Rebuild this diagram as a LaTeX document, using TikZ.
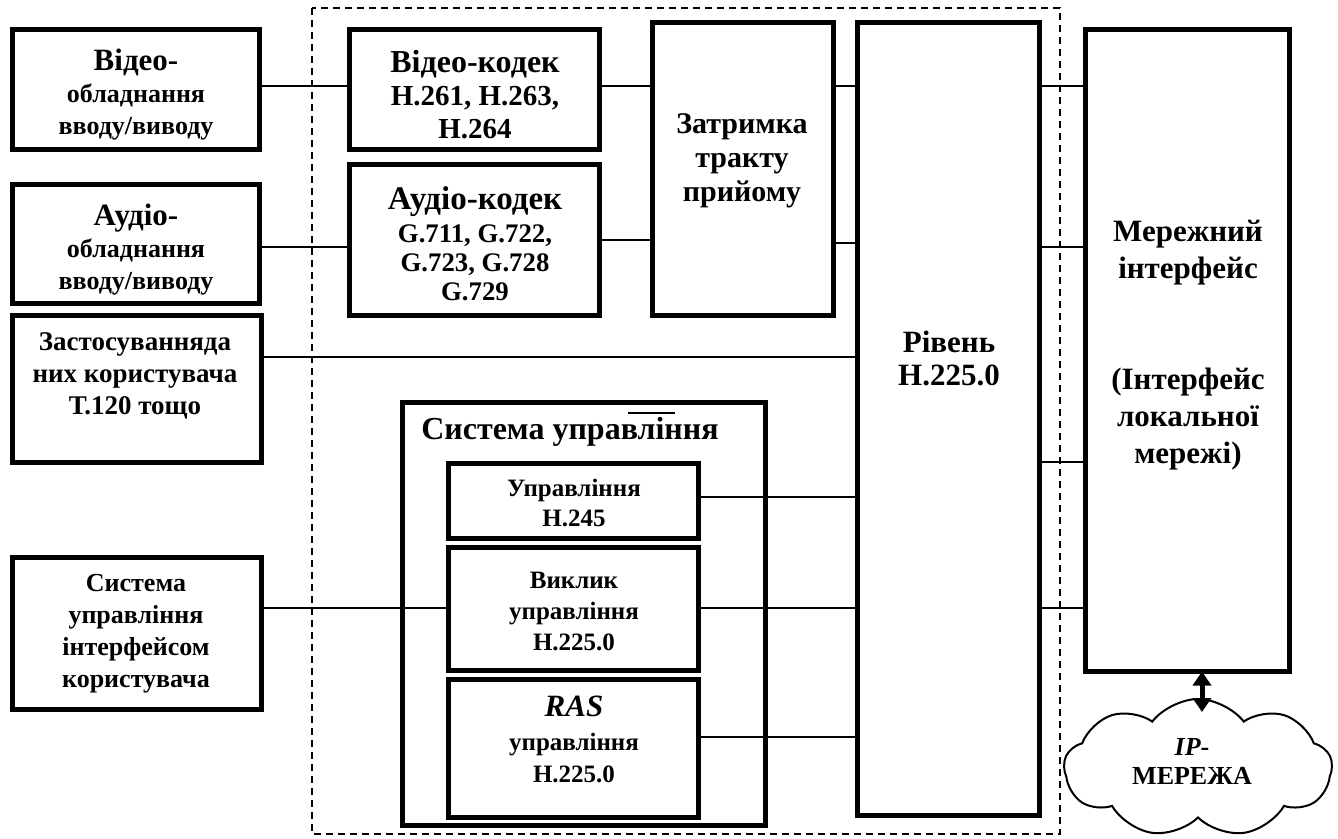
\documentclass[tikz,border=0pt]{standalone}
\usepackage{fontspec}
\setmainfont{Liberation Serif}
\usetikzlibrary{shapes.symbols,arrows.meta}
\newcommand\tbig{\fontsize{15.5}{17}\selectfont}
\begin{document}
\begin{tikzpicture}[x=0.5pt,y=-0.5pt,
  box/.style={draw, line width=2.5pt, inner sep=0pt, outer sep=0pt, fill=white},
  txt/.style={align=center, inner sep=0pt, font=\bfseries\fontsize{13}{16}\selectfont},
  conn/.style={line width=1pt},
  frame/.style={line width=0.8pt, dash pattern=on 3.5pt off 2.5pt}]
\useasboundingbox (0,0) rectangle (1338,839);
\fill[white] (0,0) rectangle (1338,839);
% dashed frame
\draw[frame] (312,8) rectangle (1060,834);
% boxes
\node[box, minimum width=123.5pt, minimum height=60pt] (vid) at (136,89.5) {};
\node[box, minimum width=123.5pt, minimum height=59.5pt] (aud) at (136,244) {};
\node[box, minimum width=124.5pt, minimum height=73.5pt] (app) at (137,389) {};
\node[box, minimum width=124.5pt, minimum height=76pt] (ui) at (137,633.5) {};
\node[box, minimum width=125pt, minimum height=60pt] (vk) at (474.5,89.5) {};
\node[box, minimum width=125pt, minimum height=75.5pt] (ak) at (474.5,240) {};
\node[box, minimum width=90.5pt, minimum height=146.5pt] (zat) at (743,169) {};
\node[box, minimum width=91pt, minimum height=396.5pt] (riv) at (948.5,419) {};
\node[box, minimum width=102pt, minimum height=321pt] (mer) at (1187.5,350.5) {};
\node[box, minimum width=181.5pt, minimum height=211.5pt] (sys) at (584,614) {};
\node[box, minimum width=125pt, minimum height=37.5pt] (h245) at (573.5,501) {};
\node[box, minimum width=125pt, minimum height=61.5pt] (vyk) at (573.5,609) {};
\node[box, minimum width=125pt, minimum height=69pt] (ras) at (573.5,748.5) {};
\node[cloud, draw, line width=1pt, cloud puffs=9, cloud puff arc=105, aspect=2,
      minimum width=134pt, minimum height=69pt, inner sep=0pt] (cloud) at (1198,768) {};
% texts
\node[txt] (vidT) at (136,95) {{\tbig Відео-}\\обладнання\\вводу/виводу};
\node[txt] (audT) at (136,250) {{\tbig Аудіо-}\\обладнання\\вводу/виводу};
\node[txt, font=\bfseries\fontsize{13.5}{16}\selectfont] (appT) at (135,376) {Застосуванняда\\них користувача\\Т.120 тощо};
\node[txt] (uiT) at (136,634) {Система\\управління\\інтерфейсом\\користувача};
\node[txt, font=\bfseries\fontsize{14.5}{16.5}\selectfont] (vkT) at (475,95) {{\fontsize{16}{16.5}\selectfont Відео-кодек}\\Н.261, Н.263,\\Н.264};
\node[txt, font=\bfseries\fontsize{13.4}{14.5}\selectfont] (akT) at (475,244) {{\fontsize{16.5}{17}\selectfont Аудіо-кодек}\\[2pt]G.711, G.722,\\G.723, G.728\\G.729};
\node[txt, font=\bfseries\fontsize{15}{17}\selectfont] (zatT) at (742,161) {Затримка\\тракту\\прийому};
\node[txt, font=\bfseries\fontsize{15.5}{16.5}\selectfont] (rivT) at (949,358) {Рівень\\Н.225.0};
\node[txt, font=\bfseries\fontsize{15.5}{18.5}\selectfont] (merT) at (1188,345) {Мережний\\інтерфейс\\[37pt](Інтерфейс\\локальної\\мережі)};
\node[txt, font=\bfseries\fontsize{16}{18}\selectfont] (sysT) at (570,432) {Система управління};
\node[txt, font=\bfseries\fontsize{12.5}{15}\selectfont] (h245T) at (574,503) {Управління\\Н.245};
\node[txt, font=\bfseries\fontsize{12.5}{15.5}\selectfont] (vykT) at (574,611) {Виклик\\управління\\Н.225.0};
\node[txt, font=\bfseries\fontsize{12.5}{16}\selectfont] (rasT) at (574,739) {{\tbig\itshape RAS}\\[1pt]управління\\Н.225.0};
\node[txt, font=\bfseries\fontsize{13}{14.5}\selectfont] (cloudT) at (1192,761) {{\itshape IP}-\\МЕРЕЖА};
% overline mark
\draw[line width=1pt] (628,413) -- (675,413);
% row coordinates
\coordinate (rA) at (0,86);
\coordinate (rB1) at (0,247);
\coordinate (rB2) at (0,240);
\coordinate (rB3) at (0,243);
\coordinate (rB4) at (0,247);
\coordinate (rC) at (0,357);
\coordinate (rD) at (0,497);
\coordinate (rD2) at (0,462);
\coordinate (rE) at (0,608);
\coordinate (rF) at (0,737);
\coordinate (arrEnd) at (1202,712);
% connectors
\draw[conn] (vid.east |- rA) -- (vk.west |- rA);
\draw[conn] (vk.east |- rA) -- (zat.west |- rA);
\draw[conn] (zat.east |- rA) -- (riv.west |- rA);
\draw[conn] (riv.east |- rA) -- (mer.west |- rA);
\draw[conn] (aud.east |- rB1) -- (ak.west |- rB1);
\draw[conn] (ak.east |- rB2) -- (zat.west |- rB2);
\draw[conn] (zat.east |- rB3) -- (riv.west |- rB3);
\draw[conn] (riv.east |- rB4) -- (mer.west |- rB4);
\draw[conn] (app.east |- rC) -- (riv.west |- rC);
\draw[conn] (riv.east |- rD2) -- (mer.west |- rD2);
\draw[conn] (h245.east |- rD) -- (riv.west |- rD);
\draw[conn] (ui.east |- rE) -- (vyk.west |- rE);
\draw[conn] (vyk.east |- rE) -- (riv.west |- rE);
\draw[conn] (riv.east |- rE) -- (mer.west |- rE);
\draw[conn] (ras.east |- rF) -- (riv.west |- rF);
\draw[line width=2.5pt, {Triangle[width=9pt,length=7pt]}-{Triangle[width=9pt,length=7pt]}] (mer.south -| arrEnd) -- (arrEnd);
\end{tikzpicture}
\end{document}
